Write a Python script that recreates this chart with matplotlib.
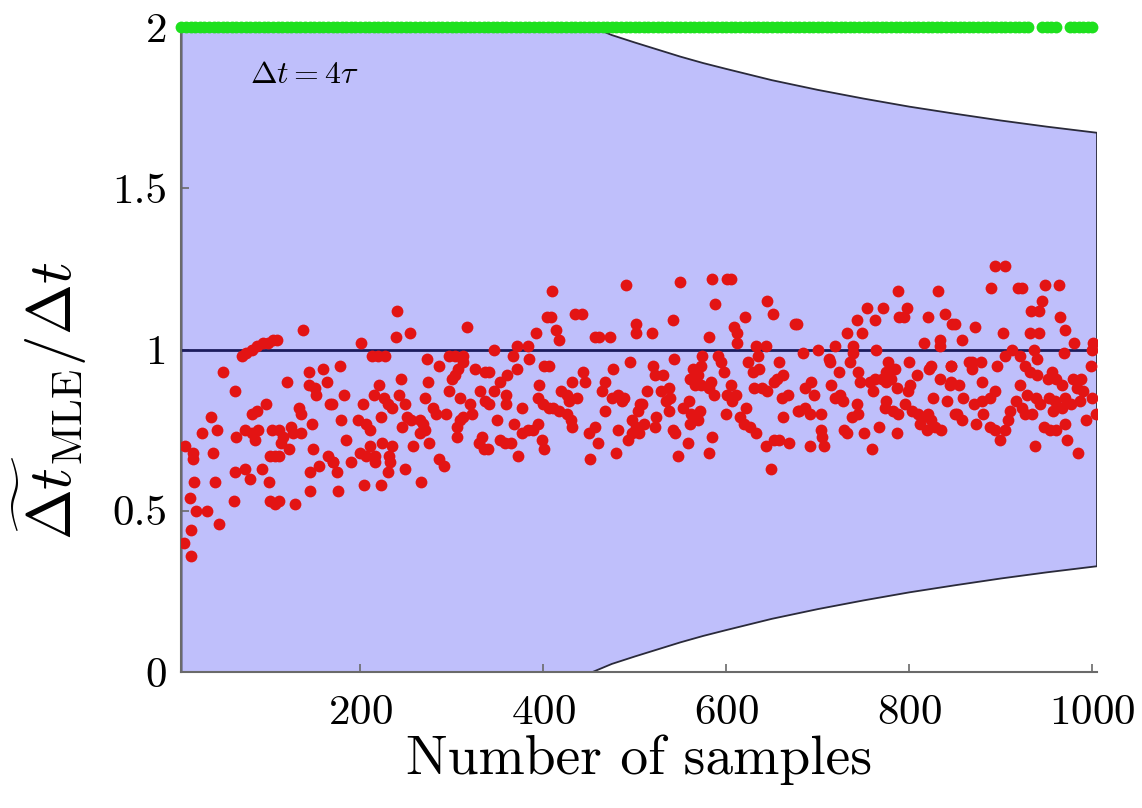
import numpy as np
import matplotlib
matplotlib.use("Agg")
import matplotlib.pyplot as plt

plt.rcParams['font.family'] = 'cmr10'
plt.rcParams['mathtext.fontset'] = 'cm'
plt.rcParams['axes.formatter.use_mathtext'] = True

# red points: MLE estimate / true value vs number of samples
red_n_1 = [138, 71, 76, 82, 88, 94, 100, 105, 109, 50, 120, 144, 160, 164, 144, 151, 152, 63, 167,
           82, 87, 97, 133, 136, 37, 148, 27, 44, 65, 74, 82, 85, 89, 104, 111, 116, 125, 127, 136,
           114, 123, 9, 18, 18, 39, 149, 102, 107, 112, 165, 171, 155, 145, 63, 74, 80, 93, 101,
           19, 42, 145, 14, 62, 102, 107, 112, 129, 21, 33, 46, 15, 8, 15]
red_y_1 = [1.06, 0.98, 0.99, 1.00, 1.01, 1.02, 1.02, 1.03, 1.03, 0.93, 0.90, 0.93, 0.94, 0.90, 0.89, 0.88,
           0.86, 0.87, 0.83, 0.80, 0.81, 0.83, 0.82, 0.80, 0.79, 0.77, 0.74, 0.75, 0.73, 0.75, 0.74, 0.72,
           0.75, 0.75, 0.75, 0.73, 0.76, 0.74, 0.74, 0.71, 0.69, 0.70, 0.68, 0.66, 0.68, 0.69, 0.67, 0.67,
           0.67, 0.67, 0.65, 0.64, 0.62, 0.62, 0.63, 0.60, 0.63, 0.59, 0.59, 0.59, 0.56, 0.54, 0.53, 0.53,
           0.52, 0.53, 0.52, 0.50, 0.50, 0.46, 0.44, 0.40, 0.36]

red_n_2 = [240, 239, 255, 201, 317, 213, 220, 227, 178, 273, 286, 297, 304, 312, 313, 307, 304, 301,
           326, 337, 245, 274, 221, 215, 226, 231, 235, 243, 249, 183, 169, 203, 271, 297, 309, 331,
           337, 320, 322, 313, 280, 283, 294, 251, 246, 256, 265, 269, 271, 266, 223, 179, 198, 207,
           211, 309, 306, 333, 330, 335, 306, 185, 258, 275, 211, 224, 235, 200, 207, 216, 216, 232,
           233, 231, 286, 292, 171, 175, 190, 249, 204, 223, 267, 176]
red_y_2 = [1.12, 1.04, 1.05, 1.02, 1.07, 0.98, 0.98, 0.98, 0.95, 0.97, 0.95, 0.98, 0.98, 0.98, 0.96, 0.94,
           0.92, 0.91, 0.94, 0.93, 0.91, 0.90, 0.89, 0.86, 0.85, 0.83, 0.82, 0.86, 0.83, 0.86, 0.83, 0.83,
           0.85, 0.87, 0.85, 0.87, 0.84, 0.83, 0.80, 0.79, 0.82, 0.80, 0.80, 0.79, 0.76, 0.78, 0.78, 0.77,
           0.75, 0.74, 0.79, 0.78, 0.78, 0.77, 0.75, 0.78, 0.76, 0.73, 0.71, 0.69, 0.73, 0.72, 0.70, 0.71,
           0.70, 0.71, 0.70, 0.68, 0.67, 0.67, 0.65, 0.67, 0.65, 0.62, 0.66, 0.64, 0.65, 0.62, 0.65, 0.63,
           0.58, 0.58, 0.59, 0.56]

red_n_3 = [410, 490, 404, 409, 435, 442, 502, 502, 392, 414, 417, 457, 461, 473, 346, 371, 383, 367,
           385, 401, 406, 372, 341, 361, 353, 495, 476, 444, 446, 432, 468, 464, 396, 420, 426, 346,
           359, 394, 400, 406, 411, 417, 426, 431, 432, 437, 428, 475, 482, 488, 486, 341, 359, 377,
           468, 506, 504, 497, 502, 497, 493, 505, 350, 368, 394, 457, 450, 460, 384, 377, 389, 482,
           353, 358, 365, 399, 401, 340, 373, 451, 480]
red_y_3 = [1.18, 1.20, 1.10, 1.10, 1.11, 1.11, 1.08, 1.05, 1.05, 1.06, 1.03, 1.04, 1.04, 1.04, 1.00, 1.01,
           1.01, 0.98, 0.97, 0.95, 0.95, 0.94, 0.93, 0.92, 0.90, 0.96, 0.94, 0.93, 0.90, 0.90, 0.90, 0.87,
           0.89, 0.87, 0.86, 0.87, 0.86, 0.85, 0.83, 0.82, 0.82, 0.81, 0.80, 0.78, 0.76, 0.85, 0.84, 0.85,
           0.86, 0.85, 0.84, 0.83, 0.83, 0.82, 0.81, 0.83, 0.81, 0.78, 0.76, 0.74, 0.72, 0.74, 0.78, 0.77,
           0.77, 0.76, 0.74, 0.71, 0.75, 0.74, 0.75, 0.75, 0.72, 0.71, 0.71, 0.72, 0.69, 0.69, 0.67, 0.66,
           0.68]

red_n_4 = [550, 584, 601, 605, 588, 645, 651, 621, 542, 675, 519, 609, 612, 612, 581, 633, 644, 635,
           543, 574, 591, 594, 520, 531, 522, 564, 573, 560, 569, 566, 573, 598, 624, 629, 636, 658,
           662, 656, 652, 583, 581, 587, 514, 529, 537, 539, 605, 601, 611, 606, 630, 639, 645, 667,
           661, 508, 534, 537, 559, 553, 561, 571, 569, 560, 622, 615, 619, 600, 678, 523, 522, 510,
           626, 662, 542, 544, 633, 584, 558, 644, 652, 658, 669, 547, 581, 649]
red_y_4 = [1.21, 1.22, 1.22, 1.22, 1.14, 1.15, 1.11, 1.10, 1.09, 1.08, 1.05, 1.07, 1.05, 1.02, 1.04, 1.01,
           1.01, 0.98, 0.97, 0.98, 0.98, 0.96, 0.95, 0.92, 0.92, 0.94, 0.95, 0.91, 0.92, 0.89, 0.89, 0.93,
           0.96, 0.93, 0.94, 0.96, 0.92, 0.91, 0.90, 0.90, 0.88, 0.86, 0.87, 0.87, 0.88, 0.85, 0.89, 0.86,
           0.86, 0.84, 0.88, 0.88, 0.87, 0.86, 0.85, 0.83, 0.84, 0.81, 0.84, 0.82, 0.80, 0.81, 0.78, 0.77,
           0.82, 0.79, 0.77, 0.80, 0.81, 0.79, 0.76, 0.77, 0.76, 0.79, 0.75, 0.74, 0.74, 0.73, 0.71, 0.70,
           0.72, 0.72, 0.71, 0.67, 0.68, 0.63]

red_n_5 = [788, 831, 754, 771, 797, 789, 794, 743, 762, 677, 820, 839, 847, 732, 748, 738, 738, 764,
           700, 719, 684, 816, 834, 833, 712, 713, 723, 735, 744, 746, 777, 784, 774, 780, 770, 763,
           757, 774, 760, 800, 808, 801, 799, 824, 821, 846, 834, 844, 693, 686, 696, 715, 724, 719,
           728, 786, 826, 841, 743, 737, 744, 686, 679, 691, 703, 774, 773, 782, 788, 795, 803, 810,
           814, 820, 824, 812, 819, 828, 835, 850, 704, 705, 707, 729, 732, 692, 751, 767, 786, 759]
red_y_5 = [1.18, 1.18, 1.13, 1.13, 1.13, 1.10, 1.10, 1.09, 1.09, 1.08, 1.10, 1.11, 1.08, 1.05, 1.05, 1.01,
           0.99, 1.00, 1.00, 1.01, 0.99, 1.02, 1.03, 1.01, 0.97, 0.96, 0.93, 0.96, 0.93, 0.90, 0.96, 0.94,
           0.93, 0.91, 0.91, 0.91, 0.90, 0.90, 0.87, 0.96, 0.92, 0.89, 0.87, 0.95, 0.94, 0.95, 0.91, 0.89,
           0.90, 0.88, 0.86, 0.89, 0.86, 0.85, 0.84, 0.88, 0.85, 0.84, 0.83, 0.79, 0.80, 0.82, 0.81, 0.80,
           0.80, 0.84, 0.82, 0.81, 0.80, 0.83, 0.81, 0.80, 0.79, 0.80, 0.78, 0.77, 0.75, 0.76, 0.75, 0.80,
           0.75, 0.73, 0.70, 0.75, 0.74, 0.70, 0.74, 0.76, 0.74, 0.69]

red_n_6 = [894, 905, 889, 919, 923, 948, 964, 945, 933, 942, 965, 970, 850, 872, 857, 902, 932, 942,
           980, 969, 1001, 999, 998, 912, 905, 936, 940, 921, 926, 932, 940, 846, 865, 869, 878, 868,
           896, 956, 952, 960, 846, 854, 859, 879, 894, 888, 879, 871, 921, 928, 916, 910, 908, 938,
           943, 953, 959, 967, 970, 979, 988, 983, 990, 999, 986, 957, 967, 977, 1004, 852, 857, 881,
           873, 926, 934, 923, 888, 894, 905, 899, 947, 954, 960, 970, 993, 937, 972, 984]
red_y_6 = [1.26, 1.26, 1.19, 1.19, 1.19, 1.20, 1.20, 1.15, 1.12, 1.12, 1.10, 1.06, 1.08, 1.07, 1.03, 1.05,
           1.05, 1.05, 1.02, 0.99, 1.02, 1.00, 0.95, 1.00, 0.98, 1.00, 0.97, 0.98, 0.95, 0.93, 0.92, 0.95,
           0.96, 0.96, 0.96, 0.94, 0.95, 0.93, 0.91, 0.91, 0.90, 0.89, 0.85, 0.90, 0.87, 0.85, 0.84, 0.83,
           0.89, 0.86, 0.84, 0.81, 0.78, 0.85, 0.83, 0.85, 0.84, 0.89, 0.85, 0.91, 0.91, 0.88, 0.87, 0.85,
           0.84, 0.81, 0.82, 0.83, 0.80, 0.80, 0.78, 0.80, 0.77, 0.80, 0.80, 0.82, 0.76, 0.75, 0.75, 0.72,
           0.76, 0.75, 0.75, 0.77, 0.78, 0.70, 0.72, 0.68]

red_n = red_n_1 + red_n_2 + red_n_3 + red_n_4 + red_n_5 + red_n_6
red_y = red_y_1 + red_y_2 + red_y_3 + red_y_4 + red_y_5 + red_y_6

# green points: estimates stuck at the upper bound 2 (two short gaps near the right end)
green_n = [n for n in range(5, 1001, 5) if n not in (935, 940, 965, 970)]
green_y = [2.0] * len(green_n)

# confidence band half-width around 1 (clipped to [0, 2])
band_n = [5, 454, 475, 500, 525, 550, 575, 600, 650, 700, 750, 800, 850, 900, 950, 1005]
band_half = [1.0, 1.0, 0.975, 0.952, 0.93, 0.908, 0.888, 0.87, 0.835, 0.805, 0.778,
             0.753, 0.731, 0.71, 0.691, 0.672]

band_n = np.array(band_n)
upper = np.clip(1 + np.array(band_half), 0, 2)
lower = np.clip(1 - np.array(band_half), 0, 2)

fig = plt.figure(figsize=(11.42, 8.08), dpi=100)
ax = fig.add_axes([0.1585, 0.1683, 0.8021, 0.7983])

poly_x = np.concatenate([band_n, band_n[::-1]])
poly_y = np.concatenate([upper, lower[::-1]])
ax.fill(poly_x, poly_y, facecolor='#bfbffb', edgecolor='#2a2a3a', linewidth=1.3, zorder=1)

ax.axhline(1, color='#1c1c5c', linewidth=2, zorder=2)

ax.plot(red_n, red_y, 'o', color='#e31414', markersize=8.5, markeredgewidth=0, zorder=3)
ax.plot(green_n, green_y, 'o', color='#1ee01e', markersize=8.5, markeredgewidth=0,
        zorder=4, clip_on=False)

ax.text(80, 1.85, r'$\Delta t = 4\tau$', fontsize=23, va='center', ha='left')

ax.set_xlim(4.5, 1005)
ax.set_ylim(0, 2)
ax.set_xticks([200, 400, 600, 800, 1000])
ax.set_yticks([0, 0.5, 1, 1.5, 2])
ax.set_yticklabels(['0', '0.5', '1', '1.5', '2'])

for s in ['top', 'right']:
    ax.spines[s].set_visible(False)
for s in ['left', 'bottom']:
    ax.spines[s].set_color('#6a6a6a')
    ax.spines[s].set_linewidth(1.5)
ax.tick_params(direction='in', length=6, width=1.2, color='#6a6a6a',
               labelsize=31, pad=10)
ax.tick_params(axis='x', pad=16)

ax.set_xlabel('Number of samples', fontsize=40, labelpad=2)
ax.set_ylabel(r'$\widetilde{\Delta t}_{\mathrm{MLE}}/\Delta t$', fontsize=44, labelpad=6)
ax.yaxis.set_label_coords(-0.1, 0.42)

fig.savefig('out.png', dpi=100)
